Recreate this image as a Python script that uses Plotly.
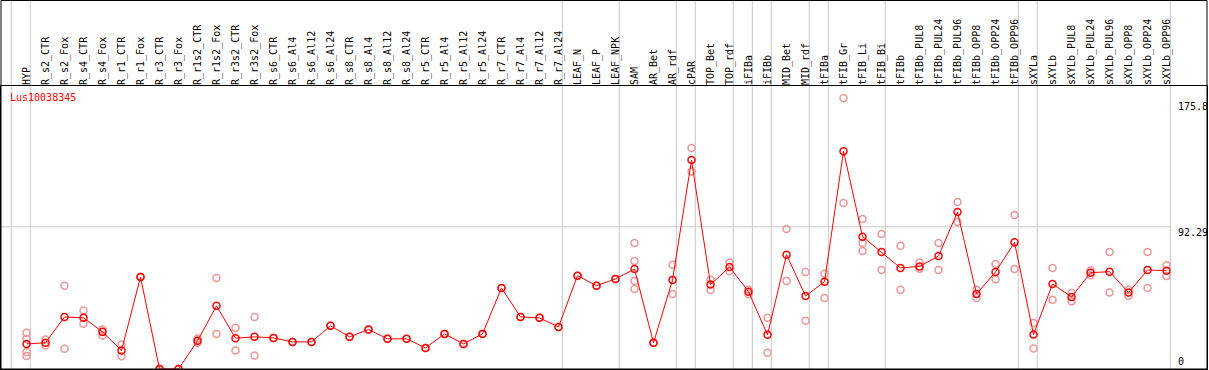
import plotly.graph_objects as go

# ---------------- data ----------------
gene = "Lus10038345"

categories = [
    "HYP", "R_s2_CTR", "R_s2_Fox", "R_s4_CTR", "R_s4_Fox", "R_r1_CTR", "R_r1_Fox",
    "R_r3_CTR", "R_r3_Fox", "R_r1s2_CTR", "R_r1s2_Fox", "R_r3s2_CTR", "R_r3s2_Fox",
    "R_s6_CTR", "R_s6_Al4", "R_s6_Al12", "R_s6_Al24", "R_s8_CTR", "R_s8_Al4",
    "R_s8_Al12", "R_s8_Al24", "R_r5_CTR", "R_r5_Al4", "R_r5_Al12", "R_r5_Al24",
    "R_r7_CTR", "R_r7_Al4", "R_r7_Al12", "R_r7_Al24", "LEAF_N", "LEAF_P", "LEAF_NPK",
    "SAM", "AR_Bet", "AR_rdf", "cPAR", "TOP_Bet", "TOP_rdf", "iFIBa", "iFIBb",
    "MID_Bet", "MID_rdf", "tFIBa", "tFIB_Gr", "tFIB_Li", "tFIB_Bi", "tFIBb",
    "tFIBb_PUL8", "tFIBb_PUL24", "tFIBb_PUL96", "tFIBb_OPP8", "tFIBb_OPP24",
    "tFIBb_OPP96", "sXYLa", "sXYLb", "sXYLb_PUL8", "sXYLb_PUL24", "sXYLb_PUL96",
    "sXYLb_OPP8", "sXYLb_OPP24", "sXYLb_OPP96",
]

means = [
    16.3, 17.0, 33.8, 33.2, 24.1, 12.0, 59.7,
    0.0, 0.0, 18.3, 41.0, 20.0, 20.9,
    20.2, 17.6, 17.6, 28.0, 20.9, 25.6,
    19.6, 19.6, 13.7, 22.8, 16.3, 22.8,
    52.6, 33.8, 33.2, 27.3, 60.6, 54.1, 58.5,
    64.9, 17.0, 57.8, 135.6, 54.8, 66.2, 50.2, 22.2,
    74.2, 47.4, 56.7, 141.4, 85.9, 76.0, 65.6,
    66.6, 73.4, 101.9, 48.7, 63.0,
    82.2, 22.4, 55.2, 46.8, 62.5, 63.2,
    49.6, 64.3, 63.8,
]

replicates = [
    [23.5, 19.5, 11.0, 8.5], [19.1, 15.2], [54.1, 13.1], [37.9, 29.3], [25.6, 21.7],
    [15.9, 8.3], [59.7, 59.7],
    [0.0, 0.0], [0.0, 0.0], [19.8, 17.0], [59.1, 22.8], [26.7, 12.0], [33.8, 8.7],
    [20.2], [17.6], [17.6], [28.0], [20.9], [25.6],
    [19.6], [19.6], [13.7], [22.8], [16.3], [22.8],
    [52.6], [33.8], [33.2], [27.3], [60.6], [54.1], [58.5],
    [81.8, 70.1, 57.2, 52.0], [17.0, 17.0], [67.7, 48.7], [143.4, 128.2],
    [58.0, 51.3], [69.2, 63.4], [51.5, 48.5], [33.2, 10.5],
    [90.9, 57.2], [63.0, 31.4], [61.9, 46.1], [175.8, 107.7], [97.3, 81.8, 76.6],
    [87.6, 64.3], [80.0, 51.5],
    [69.2, 65.0], [81.8, 64.3], [108.4, 95.4], [51.5, 46.1], [68.2, 58.2],
    [99.9, 64.9], [29.9, 13.3], [65.6, 45.0], [49.4, 43.9], [64.0, 60.8],
    [76.0, 49.6], [51.5, 47.6], [76.0, 52.6], [67.3, 60.4],
]

group_sizes = [1, 28, 3, 3, 1, 2, 1, 1, 2, 1, 3, 7, 1, 7]
y_ticks = [0, 92.29, 175.8]
y_tick_text = ["0", "92.29", "175.8"]

# ---------------- layout constants ----------------
W, H = 1209, 370
ML, MR, MT, MB = 1, 2, 86, 1
PW = W - ML - MR
PH = H - MT - MB
X_RANGE = [-1.342, 62.13]
Y_RANGE = [0, 183.7]
SEP_OFFSET = 0.2
FONT = "DejaVu Sans Mono, Liberation Mono, monospace"
GRID = "#c8c8c8"
TICK_SHIFT = {0: 0, 92.29: 2, 175.8: -1}


def xpaper(v):
    return (v - X_RANGE[0]) / (X_RANGE[1] - X_RANGE[0])


def px_to_xpaper(px):
    return (px - ML) / PW


def px_to_ypaper(py):
    return (H - MB - py) / PH


idx = list(range(len(categories)))

rep_x, rep_y = [], []
for i, reps in enumerate(replicates):
    for r in reps:
        rep_x.append(i)
        rep_y.append(r)

fig = go.Figure()
fig.add_trace(go.Scatter(
    x=rep_x, y=rep_y, mode="markers", hoverinfo="skip",
    marker=dict(symbol="circle-open", size=7, color="#ee9696",
                line=dict(width=1.5, color="#ee9696")),
    showlegend=False,
))
fig.add_trace(go.Scatter(
    x=idx, y=means, mode="lines+markers",
    line=dict(color="#ff0000", width=1),
    marker=dict(symbol="circle-open", size=7, color="#ff0000",
                line=dict(width=1.5, color="#ff0000")),
    showlegend=False,
))
# invisible trace for the top category axis
fig.add_trace(go.Scatter(x=idx, y=means, xaxis="x2", mode="markers",
                         marker=dict(opacity=0), hoverinfo="skip", showlegend=False))

# separators
ends = []
c = -1
ends.append(c)
for g in group_sizes:
    c += g
    ends.append(c)

shapes = []
top_paper = px_to_ypaper(0.5)
for e in ends:
    xp = xpaper(e + SEP_OFFSET)
    shapes.append(dict(type="line", xref="paper", yref="paper", x0=xp, x1=xp,
                       y0=0, y1=top_paper, line=dict(color=GRID, width=1), layer="below"))
# horizontal grid at middle tick
for t in y_ticks[1:-1]:
    shapes.append(dict(type="line", xref="paper", yref="y", x0=0,
                       x1=xpaper(ends[-1] + SEP_OFFSET), y0=t, y1=t,
                       line=dict(color=GRID, width=1), layer="below"))
# outer frame
shapes.append(dict(type="rect", xref="paper", yref="paper", x0=0, x1=1, y0=0, y1=top_paper,
                   line=dict(color="black", width=1)))

annotations = [dict(text=gene, xref="paper", yref="paper", x=px_to_xpaper(8),
                    y=px_to_ypaper(97), xanchor="left", yanchor="middle", showarrow=False,
                    font=dict(family=FONT, size=10, color="#ff0000"))]
for t, lab in zip(y_ticks, y_tick_text):
    annotations.append(dict(text=lab, xref="paper", yref="y", x=px_to_xpaper(1176), y=t,
                            xanchor="left", yanchor="bottom" if t == 0 else "top",
                            yshift=TICK_SHIFT.get(t, 0),
                            showarrow=False, font=dict(family=FONT, size=10, color="black")))

fig.update_layout(
    width=W, height=H, margin=dict(l=ML, r=MR, t=MT, b=MB, pad=0),
    paper_bgcolor="white", plot_bgcolor="white",
    showlegend=False, shapes=shapes, annotations=annotations,
    xaxis=dict(range=X_RANGE, showgrid=False, zeroline=False, showticklabels=False,
               ticks="", showline=True, linecolor="black", linewidth=1, mirror=True),
    xaxis2=dict(range=X_RANGE, overlaying="x", side="top", tickmode="array",
                tickvals=idx, ticktext=categories, tickangle=-90, ticks="",
                showgrid=False, zeroline=False, showline=False,
                tickfont=dict(family=FONT, size=10, color="black")),
    yaxis=dict(range=Y_RANGE, showgrid=False, zeroline=False, showticklabels=False,
               ticks="", showline=True, linecolor="black", linewidth=1, mirror=True),
)

fig.write_html(
    "out.html",
    config={"displayModeBar": False},
    post_script="document.body.style.margin='0';document.body.style.overflow='hidden';",
)
